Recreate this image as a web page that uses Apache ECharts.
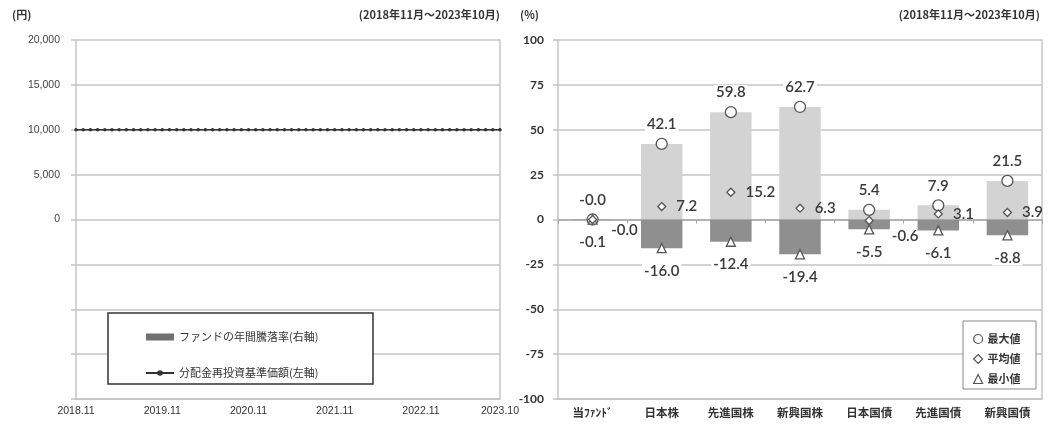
<!DOCTYPE html>
<html><head><meta charset="utf-8">
<script src="https://cdn.jsdelivr.net/npm/echarts@6/dist/echarts.min.js"></script>
<style>html,body{margin:0;padding:0;background:#fff}#c{width:1048px;height:425px}</style>
</head><body><div id="c"></div>
<script>
// ---- Left chart data ----
const months = [
 '2018.11','2018.12','2019.01','2019.02','2019.03','2019.04','2019.05','2019.06','2019.07','2019.08','2019.09','2019.10',
 '2019.11','2019.12','2020.01','2020.02','2020.03','2020.04','2020.05','2020.06','2020.07','2020.08','2020.09','2020.10',
 '2020.11','2020.12','2021.01','2021.02','2021.03','2021.04','2021.05','2021.06','2021.07','2021.08','2021.09','2021.10',
 '2021.11','2021.12','2022.01','2022.02','2022.03','2022.04','2022.05','2022.06','2022.07','2022.08','2022.09','2022.10',
 '2022.11','2022.12','2023.01','2023.02','2023.03','2023.04','2023.05','2023.06','2023.07','2023.08','2023.09','2023.10'
];
const navValues = [
 10000,10000,10000,10000,10000,10000,10000,10000,10000,10000,10000,10000,
 10000,10000,10000,10000,10000,10000,10000,10000,10000,10000,10000,10000,
 10000,10000,10000,10000,10000,10000,10000,10000,10000,10000,10000,10000,
 10000,10000,10000,10000,10000,10000,10000,10000,10000,10000,10000,10000,
 10000,10000,10000,10000,10000,10000,10000,10000,10000,10000,10000,10000
];
const fundAnnualReturn = [];
const leftYAxis = { min: -20000, max: 20000, interval: 5000 };

// ---- Right chart data ----
const assetClasses = ['当ﾌｧﾝﾄﾞ','日本株','先進国株','新興国株','日本国債','先進国債','新興国債'];
const maxValues = [-0.01, 42.1, 59.8, 62.7, 5.4, 7.9, 21.5];
const avgValues = [-0.03, 7.2, 15.2, 6.3, -0.6, 3.1, 3.9];
const minValues = [-0.1, -16.0, -12.4, -19.4, -5.5, -6.1, -8.8];
const rightYAxis = { min: -100, max: 100, interval: 25 };

const periodText = '(2018年11月～2023年10月)';
const gridColor = '#c4c4c4';
const labelFont = 'Lato, "Noto Sans CJK JP", sans-serif';

const chart = echarts.init(document.getElementById('c'), null, { renderer: 'canvas' });

const valLabel = (pos, dist, bg) => ({
  show: true, position: pos, distance: dist,
  formatter: p => Number(p.value).toFixed(1),
  fontFamily: labelFont, fontSize: 15, fontWeight: 600, color: '#3a3a3a',
  backgroundColor: bg ? '#fff' : 'transparent', padding: [0, 2]
});

const avgData = avgValues.map((v, i) => {
  if (i === 0) return { value: v, label: { distance: 12, offset: [0, 11] } };
  if (i === 4) return { value: v, label: { distance: 16, offset: [0, 16] } };
  return v;
});

const option = {
  animation: false,
  backgroundColor: '#fff',
  textStyle: { fontFamily: '"Liberation Sans", "Noto Sans CJK JP", sans-serif' },
  graphic: [
    { type: 'text', left: 12, top: 9, z: 5, style: { text: '(円)', font: 'bold 11px "Noto Sans CJK JP"', fill: '#333' } },
    { type: 'text', right: 548, top: 9, z: 5, style: { text: periodText, font: 'bold 11px "Noto Sans CJK JP"', fill: '#333' } },
    { type: 'text', left: 520, top: 9, z: 5, style: { text: '(%)', font: 'bold 11px "Noto Sans CJK JP"', fill: '#333' } },
    { type: 'text', right: 8, top: 9, z: 5, style: { text: periodText, font: 'bold 11px "Noto Sans CJK JP"', fill: '#333' } },
    { type: 'rect', z: 3, shape: { x: 108, y: 313, width: 265, height: 71 }, style: { fill: '#fff', stroke: '#333', lineWidth: 1.5 } },
    { type: 'rect', z: 3, shape: { x: 963, y: 321, width: 73, height: 68 }, style: { fill: '#fff', stroke: '#888', lineWidth: 1 } }
  ],
  legend: [
    {
      orient: 'vertical', left: 140, top: 325, itemGap: 22, itemWidth: 28, itemHeight: 7, z: 6,
      data: [
        { name: 'ファンドの年間騰落率(右軸)', icon: 'rect' },
        { name: '分配金再投資基準価額(左軸)' }
      ],
      textStyle: { fontSize: 11, color: '#333', fontFamily: '"Noto Sans CJK JP"', lineHeight: 14 }
    },
    {
      orient: 'vertical', left: 968, top: 327, itemGap: 6, itemWidth: 9, itemHeight: 9, z: 6,
      data: [
        { name: '最大値', icon: 'circle', itemStyle: { color: '#fff', borderColor: '#555', borderWidth: 1.2 } },
        { name: '平均値', icon: 'diamond', itemStyle: { color: '#fff', borderColor: '#555', borderWidth: 1.2 } },
        { name: '最小値', icon: 'triangle', itemStyle: { color: '#fff', borderColor: '#555', borderWidth: 1.2 } }
      ],
      textStyle: { fontSize: 11, fontWeight: 'bold', color: '#333', fontFamily: '"Noto Sans CJK JP"', lineHeight: 14 }
    }
  ],
  grid: [
    { left: 76, right: 548, top: 40, bottom: 26 },
    { left: 558, right: 6, top: 40, bottom: 26 }
  ],
  xAxis: [
    {
      type: 'category', gridIndex: 0, data: months, boundaryGap: false,
      axisLine: { onZero: false, lineStyle: { color: gridColor, width: 1.5 } },
      axisTick: { show: false },
      axisLabel: {
        interval: 0, margin: 7, fontSize: 10.5, color: '#333',
        formatter: (v, i) => (i % 12 === 0 || i === months.length - 1) ? v : ''
      },
      splitLine: { show: false }
    },
    {
      type: 'category', gridIndex: 1, data: assetClasses,
      axisLine: { onZero: false, lineStyle: { color: gridColor, width: 1.5 } },
      axisTick: { show: false },
      axisLabel: { margin: 8, fontSize: 11.5, fontWeight: 'bold', color: '#333', fontFamily: '"Noto Sans CJK JP"' }
    },
    {
      type: 'category', gridIndex: 1, data: assetClasses, position: 'bottom',
      axisLine: { onZero: true, lineStyle: { color: '#a8a8a8', width: 1.5 } },
      axisTick: { show: true, length: 4, lineStyle: { color: '#a8a8a8' } },
      axisLabel: { show: false }
    }
  ],
  yAxis: [
    {
      type: 'value', gridIndex: 0, min: leftYAxis.min, max: leftYAxis.max, interval: leftYAxis.interval,
      axisLine: { show: true, lineStyle: { color: gridColor, width: 1.5 } },
      axisTick: { show: true, length: 5, lineStyle: { color: gridColor, width: 1.5 } },
      axisLabel: {
        margin: 16, fontSize: 10.5, color: '#444',
        formatter: v => v >= 0 ? v.toLocaleString('en-US') : ''
      },
      splitLine: { lineStyle: { color: gridColor, width: 1.5 } }
    },
    {
      type: 'value', gridIndex: 0, min: rightYAxis.min, max: rightYAxis.max, interval: rightYAxis.interval,
      position: 'right',
      axisLine: { show: true, lineStyle: { color: gridColor, width: 1.5 } },
      axisTick: { show: false }, axisLabel: { show: false }, splitLine: { show: false }
    },
    {
      type: 'value', gridIndex: 1, min: rightYAxis.min, max: rightYAxis.max, interval: rightYAxis.interval,
      axisLine: { show: true, lineStyle: { color: gridColor, width: 1.5 } },
      axisTick: { show: true, length: 5, lineStyle: { color: gridColor, width: 1.5 } },
      axisLabel: { margin: 14, fontSize: 12, fontWeight: 'bold', color: '#333', fontFamily: labelFont },
      splitLine: { lineStyle: { color: gridColor, width: 1.5 } }
    },
    {
      type: 'value', gridIndex: 1, min: rightYAxis.min, max: rightYAxis.max, interval: rightYAxis.interval,
      position: 'right',
      axisLine: { show: true, lineStyle: { color: gridColor, width: 1.5 } },
      axisTick: { show: false }, axisLabel: { show: false }, splitLine: { show: false }
    }
  ],
  series: [
    {
      name: 'ファンドの年間騰落率(右軸)', type: 'bar', xAxisIndex: 0, yAxisIndex: 1,
      data: fundAnnualReturn, itemStyle: { color: '#707070' }
    },
    {
      name: '分配金再投資基準価額(左軸)', type: 'line', xAxisIndex: 0, yAxisIndex: 0,
      data: navValues, symbol: 'circle', symbolSize: 3.5, showSymbol: true,
      lineStyle: { color: '#333', width: 1.5 }, itemStyle: { color: '#333' }
    },
    {
      name: 'maxBar', type: 'bar', xAxisIndex: 1, yAxisIndex: 2, data: maxValues,
      barWidth: '60%', barGap: '-100%', itemStyle: { color: '#d3d3d3' }, z: 2
    },
    {
      name: 'minBar', type: 'bar', xAxisIndex: 1, yAxisIndex: 2, data: minValues,
      barWidth: '60%', barGap: '-100%', itemStyle: { color: '#8f8f8f' }, z: 2
    },
    {
      name: '最大値', type: 'scatter', xAxisIndex: 1, yAxisIndex: 2, data: maxValues,
      symbol: 'circle', symbolSize: 11, z: 5,
      itemStyle: { color: '#fff', borderColor: '#555', borderWidth: 1.3, opacity: 1 },
      label: valLabel('top', 6, true)
    },
    {
      name: '平均値', type: 'scatter', xAxisIndex: 1, yAxisIndex: 2, data: avgData,
      symbol: 'diamond', symbolSize: 8, z: 6,
      itemStyle: { color: '#fff', borderColor: '#555', borderWidth: 1.3, opacity: 1 },
      label: valLabel('right', 8, false)
    },
    {
      name: '最小値', type: 'scatter', xAxisIndex: 1, yAxisIndex: 2, data: minValues,
      symbol: 'triangle', symbolSize: 9, z: 5,
      itemStyle: { color: '#fff', borderColor: '#555', borderWidth: 1.3, opacity: 1 },
      label: valLabel('bottom', 10, true)
    }
  ]
};
chart.setOption(option);
</script>
</body></html>
